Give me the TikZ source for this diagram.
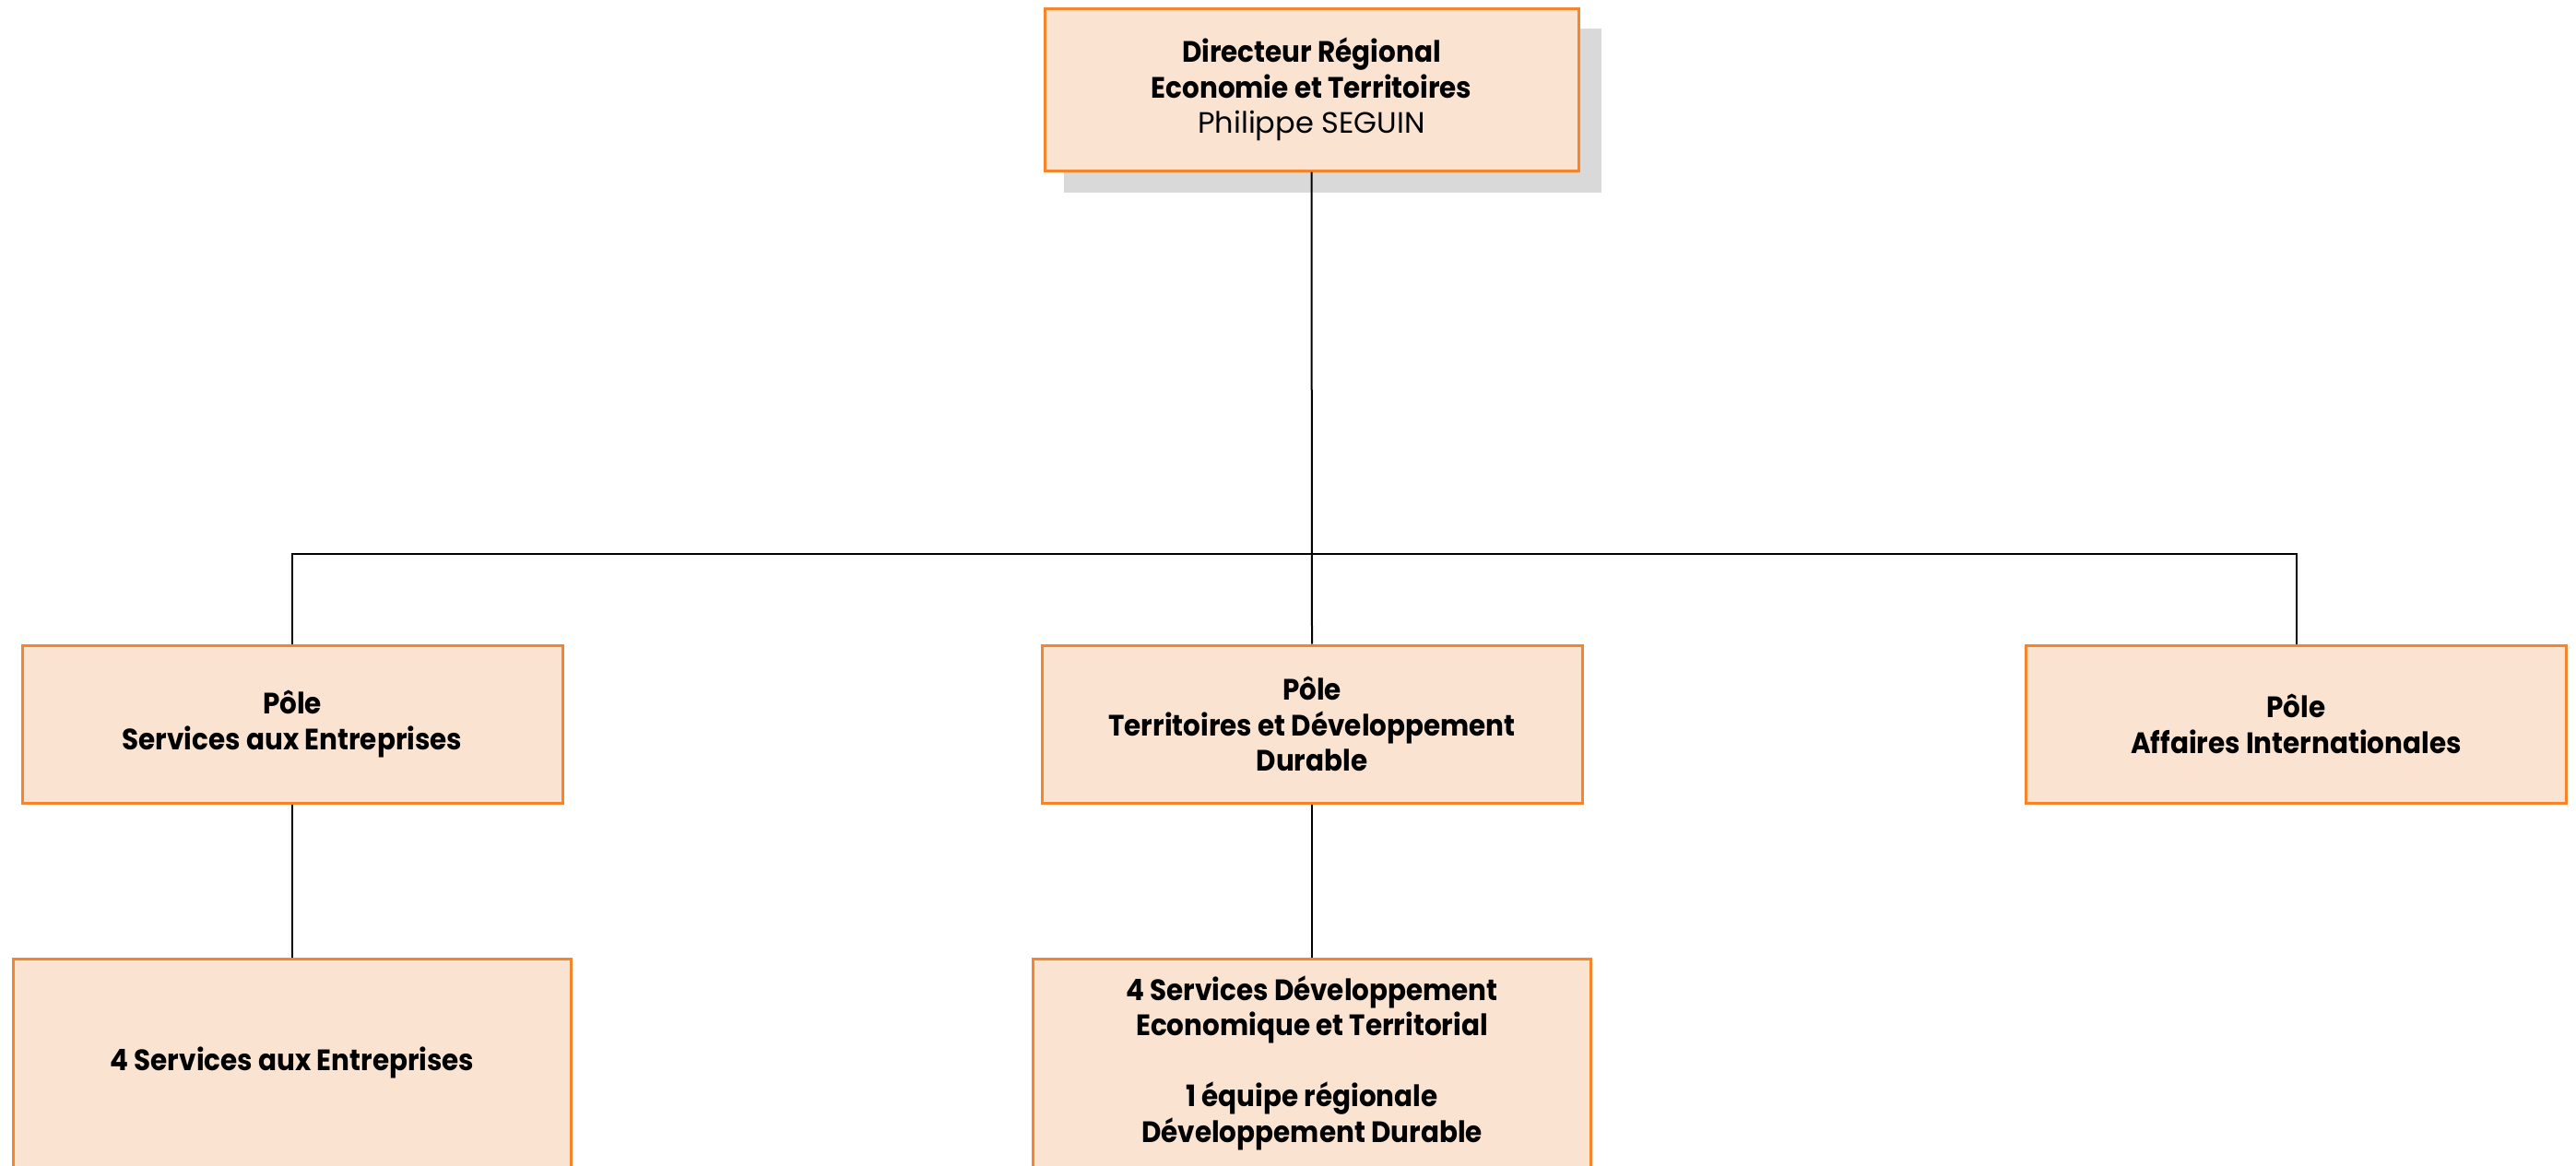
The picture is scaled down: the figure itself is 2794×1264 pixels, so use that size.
\documentclass[tikz,border=0pt]{standalone}
\usepackage{fontspec}
\setmainfont{Poppins}[BoldFeatures={FakeStretch=0.92}]
\definecolor{boxfill}{HTML}{FBE3D2}
\definecolor{boxorange}{HTML}{F5842A}
\definecolor{shadowgray}{HTML}{D9D9D9}
\begin{document}
\begin{tikzpicture}[x=0.5pt,y=-0.5pt,
  box/.style={draw=boxorange, fill=boxfill, line width=1.5pt, align=center, inner sep=0pt,
    font=\fontsize{16}{19.25}\selectfont\bfseries},
  polebox/.style={box, minimum width=293pt, minimum height=85.5pt},
  svcbox/.style={box, minimum width=302.5pt, minimum height=113pt},
  link/.style={draw=black, line width=1pt}]
\useasboundingbox (0,0) rectangle (2794,1264);
\fill[shadowgray] (1154,31) rectangle (1737,209);
\node[box, minimum width=289.5pt, minimum height=88pt] (dir) at (1422.5,97)
  {Directeur Régional\\Economie et Territoires\\\mdseries Philippe SEGUIN};
\node[polebox] (p1) at (317,785.5) {Pôle\\Services aux Entreprises};
\node[polebox] (p2) at (1423,785.5) {Pôle\\Territoires et Développement\\Durable};
\node[polebox] (p3) at (2490.5,785.5) {Pôle\\Affaires Internationales};
\node[svcbox] (s1) at (317,1153) {4 Services aux Entreprises};
\node[svcbox] (s2) at (1423,1153) {4 Services Développement\\Economique et Territorial\\~\\1 équipe régionale\\Développement Durable};
\coordinate (busL) at (317,601);
\coordinate (busR) at (2490.5,601);
\draw[link] (dir.south) -- (p2.north);
\draw[link] (p1.north) -- (busL) -- (busR) -- (p3.north);
\draw[link] (p1.south) -- (s1.north);
\draw[link] (p2.south) -- (s2.north);
\end{tikzpicture}
\end{document}
